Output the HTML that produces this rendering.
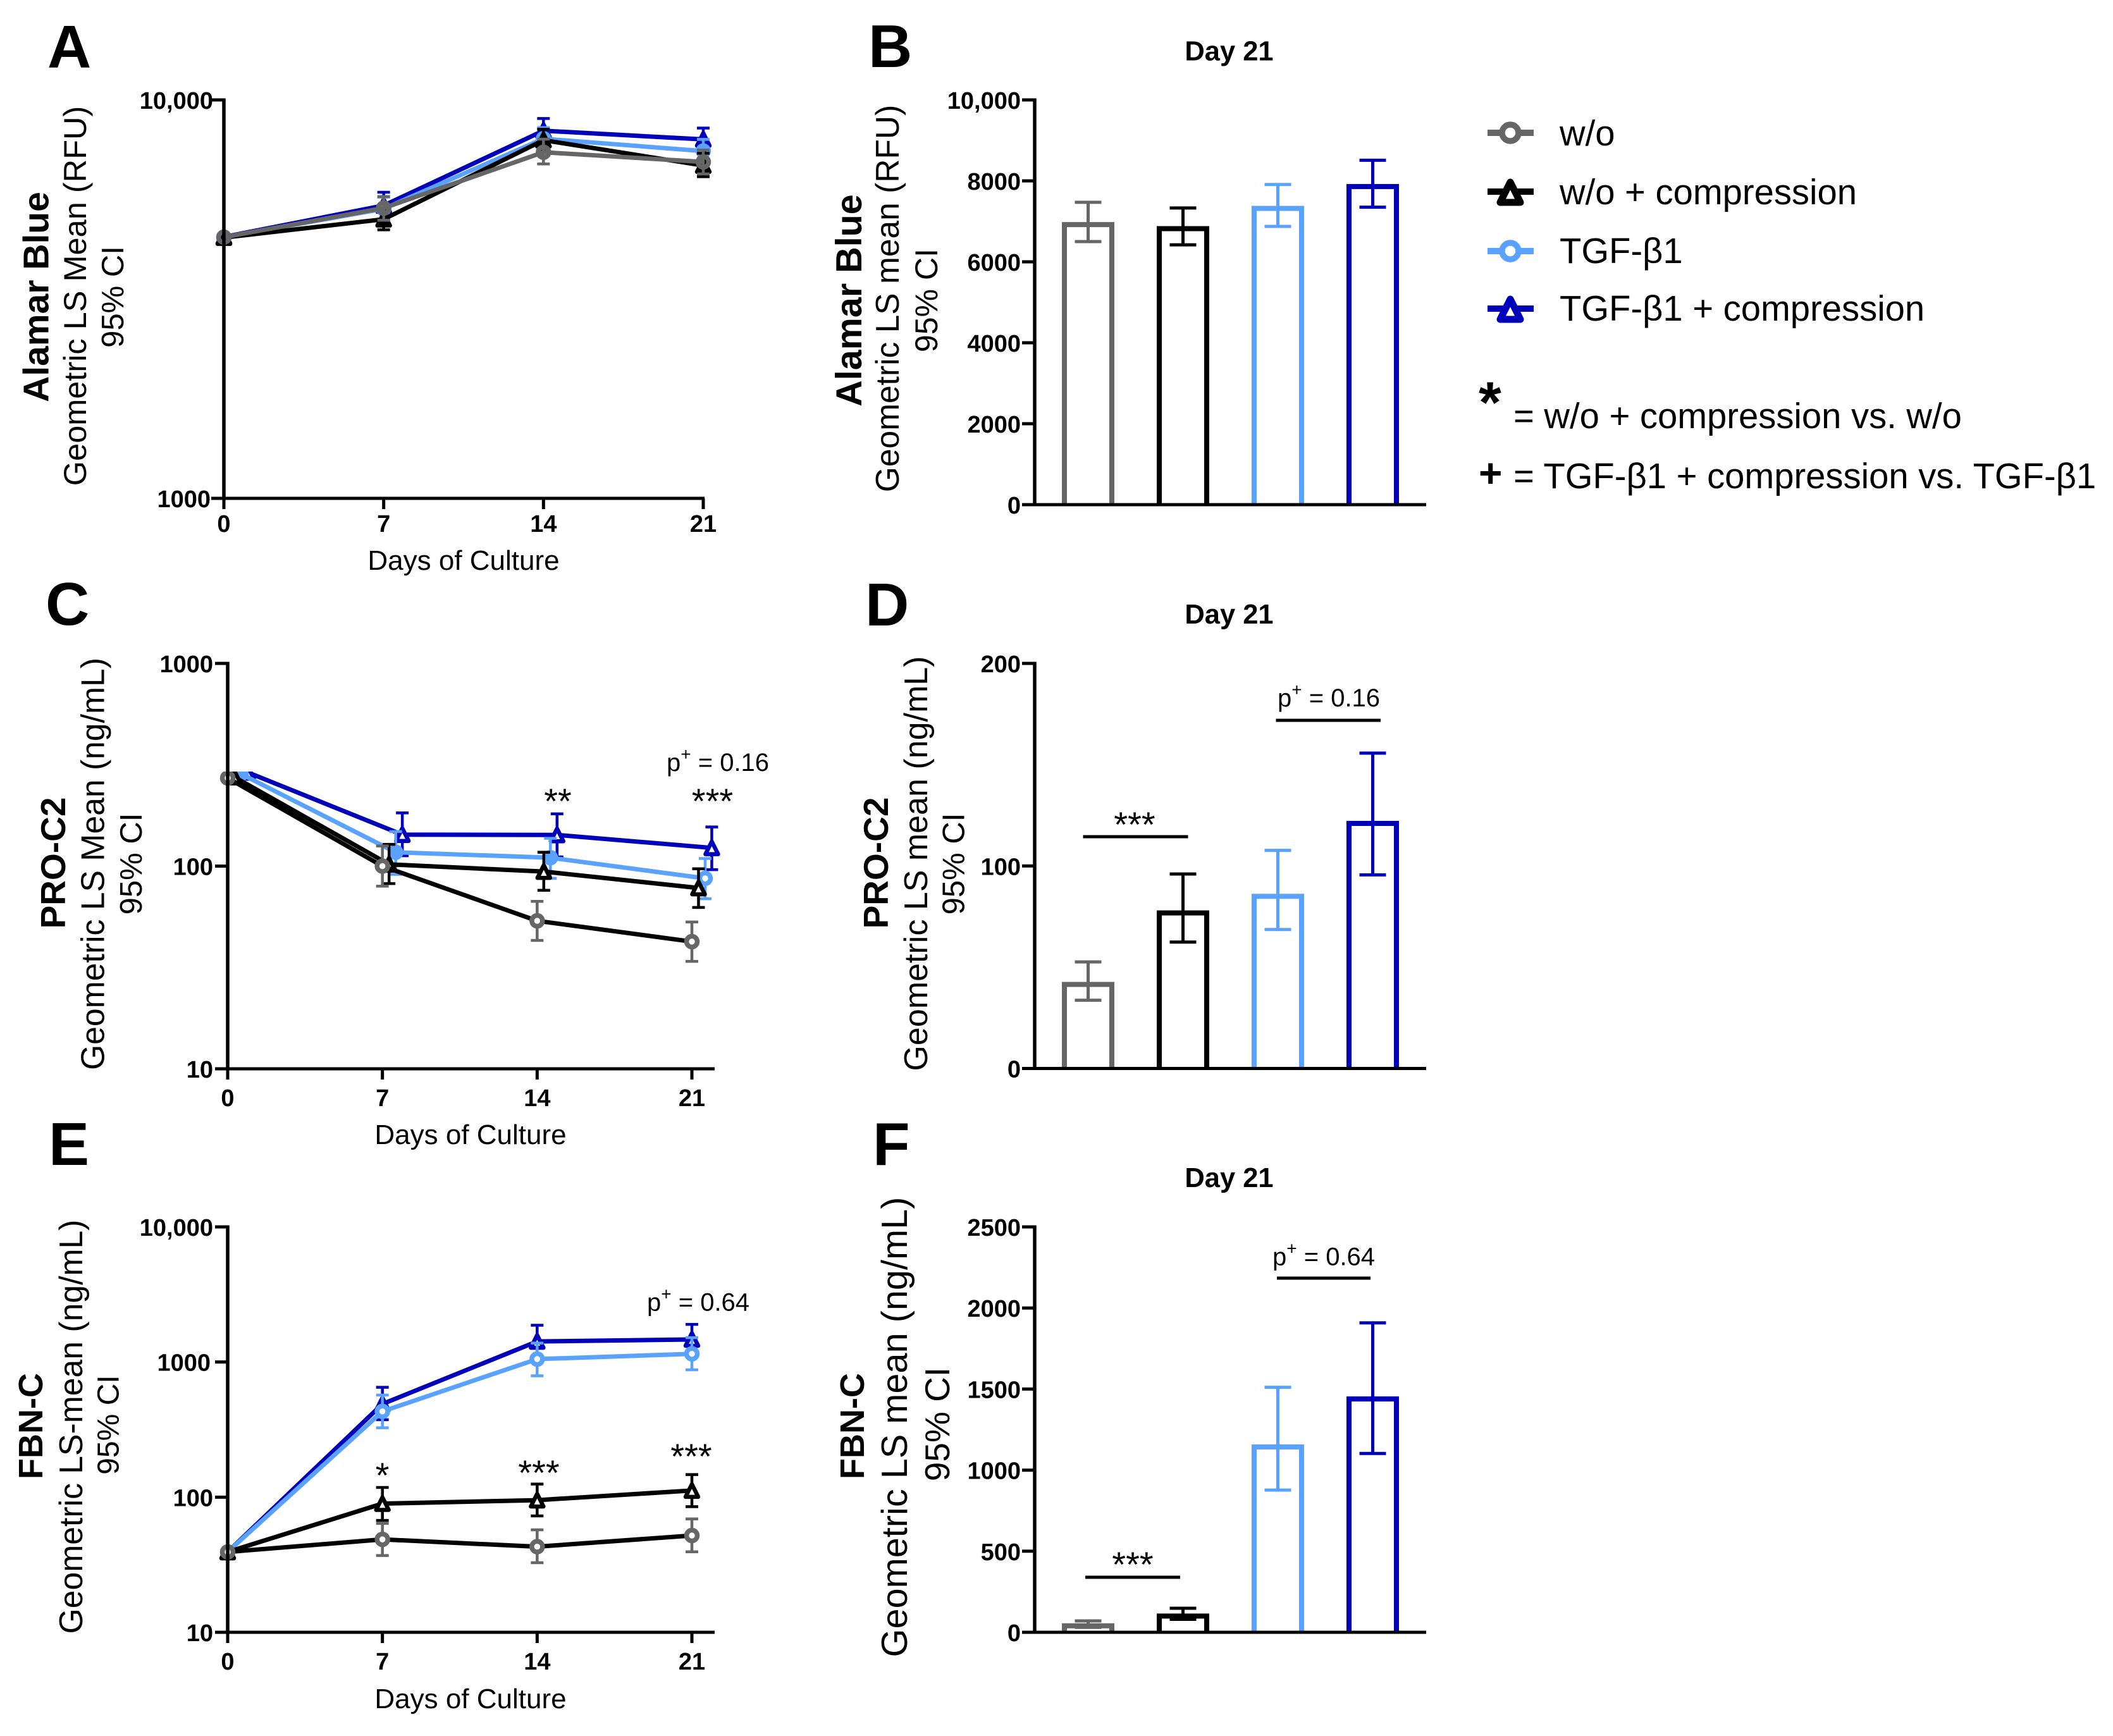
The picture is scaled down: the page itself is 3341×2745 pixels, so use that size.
<!DOCTYPE html>
<html lang="en">
<head>
<meta charset="utf-8">
<title>Alamar Blue, PRO-C2 and FBN-C time course and day 21 charts</title>
<style>
html,body{margin:0;padding:0;background:#fff}
svg{display:block;font-family:"Liberation Sans",Arial,sans-serif;fill:#000}
.pl{font-size:96px;font-weight:700}
.ttl{font-size:43.5px;font-weight:700;text-anchor:middle}
.big{font-weight:700;text-anchor:middle}
.reg{text-anchor:middle}
.days{font-size:44px;text-anchor:middle}
.leg{font-size:56.2px}
.star{font-size:56px;text-anchor:middle}
.pv{font-size:40px}
.sup{font-size:28px}
</style>
</head>
<body>
<svg id="figure" xmlns="http://www.w3.org/2000/svg" width="3341" height="2745" viewBox="0 0 3341 2745">
<rect width="3341" height="2745" fill="#fff"/>
<defs><clipPath id="clip-c"><path d="M300 1220H430V1000H1200V1720H300Z"/></clipPath></defs>

<text class="pl" x="75" y="107">A</text>
<text class="pl" x="1373" y="106">B</text>
<text class="pl" x="72" y="988">C</text>
<text class="pl" x="1368" y="989">D</text>
<text class="pl" x="77" y="1842">E</text>
<text class="pl" x="1380" y="1842">F</text>

<text class="ttl" x="1943.5" y="95.5">Day 21</text>
<text class="ttl" x="1943.5" y="986">Day 21</text>
<text class="ttl" x="1943.5" y="1877">Day 21</text>

<g>
<text class="big" font-size="57" transform="translate(76.5 469.5) rotate(-90)">Alamar Blue</text>
<text class="reg" font-size="50.5" transform="translate(136 468) rotate(-90)">Geometric LS Mean (RFU)</text>
<text class="reg" font-size="49" transform="translate(195 469.5) rotate(-90)">95% CI</text>

<text class="big" font-size="57.5" transform="translate(1362 475) rotate(-90)">Alamar Blue</text>
<text class="reg" font-size="51.5" transform="translate(1421 472) rotate(-90)">Geometric LS mean (RFU)</text>
<text class="reg" font-size="50" transform="translate(1482 475) rotate(-90)">95% CI</text>

<text class="big" font-size="55" transform="translate(103 1364.5) rotate(-90)">PRO-C2</text>
<text class="reg" font-size="51.7" transform="translate(164.5 1366) rotate(-90)">Geometric LS Mean (ng/mL)</text>
<text class="reg" font-size="49" transform="translate(224 1366) rotate(-90)">95% CI</text>

<text class="big" font-size="55" transform="translate(1404 1364.5) rotate(-90)">PRO-C2</text>
<text class="reg" font-size="52" transform="translate(1466 1365.5) rotate(-90)">Geometric LS mean (ng/mL)</text>
<text class="reg" font-size="49" transform="translate(1524.5 1366) rotate(-90)">95% CI</text>

<text class="big" font-size="54" transform="translate(67 2255) rotate(-90)">FBN-C</text>
<text class="reg" font-size="51.7" transform="translate(130 2256) rotate(-90)">Geometric LS-mean (ng/mL)</text>
<text class="reg" font-size="48" transform="translate(187.5 2253) rotate(-90)">95% CI</text>

<text class="big" font-size="54" transform="translate(1366 2255) rotate(-90)">FBN-C</text>
<text class="reg" font-size="57.7" transform="translate(1434 2256.5) rotate(-90)">Geometric LS mean (ng/mL)</text>
<text class="reg" font-size="55" transform="translate(1501 2252) rotate(-90)">95% CI</text>
</g>

<text class="days" x="733" y="901">Days of Culture</text>
<text class="days" x="744" y="1809">Days of Culture</text>
<text class="days" x="744" y="2701">Days of Culture</text>

<g id="plots"></g>

<g>
<text class="pv" x="1054" y="1219">p<tspan class="sup" dy="-17">+</tspan><tspan dy="17"> = 0.16</tspan></text>
<text class="star" x="882" y="1286">**</text>
<text class="star" x="1126.5" y="1286">***</text>
</g>
<g>
<text class="pv" x="2020" y="1117">p<tspan class="sup" dy="-17">+</tspan><tspan dy="17"> = 0.16</tspan></text>
<rect x="2017.5" y="1136.5" width="165.5" height="5"/>
<text class="star" x="1794" y="1323">***</text>
<rect x="1712.5" y="1320.5" width="166" height="5"/>
</g>
<g>
<text class="pv" x="1023" y="2072.5">p<tspan class="sup" dy="-17">+</tspan><tspan dy="17"> = 0.64</tspan></text>
<text class="star" x="604.5" y="2352">*</text>
<text class="star" x="852" y="2348">***</text>
<text class="star" x="1093" y="2322">***</text>
</g>
<g>
<text class="pv" x="2012" y="2000.5">p<tspan class="sup" dy="-17">+</tspan><tspan dy="17"> = 0.64</tspan></text>
<rect x="2019" y="2018.5" width="148" height="5"/>
<text class="star" x="1791" y="2493">***</text>
<rect x="1716" y="2491.5" width="150" height="5"/>
</g>

<g>
<g>
<path d="M2352 210H2425" stroke="#666" stroke-width="10" fill="none"/>
<circle cx="2388" cy="210" r="13" fill="#fff" stroke="#666" stroke-width="9.5"/>
<text class="leg" x="2466" y="230">w/o</text>
</g>
<g>
<path d="M2352 303H2425" stroke="#000" stroke-width="10" fill="none"/>
<path d="M2388 288L2404 320H2372Z" fill="#fff" stroke="#000" stroke-width="11" stroke-linejoin="round"/>
<text class="leg" x="2466" y="323">w/o + compression</text>
</g>
<g>
<path d="M2352 397H2425" stroke="#5aa2ff" stroke-width="10" fill="none"/>
<circle cx="2388" cy="397" r="13" fill="#fff" stroke="#5aa2ff" stroke-width="9.5"/>
<text class="leg" x="2466" y="416">TGF-β1</text>
</g>
<g>
<path d="M2352 488H2425" stroke="#0000bb" stroke-width="10" fill="none"/>
<path d="M2388 473L2404 505H2372Z" fill="#fff" stroke="#0000bb" stroke-width="11" stroke-linejoin="round"/>
<text class="leg" x="2466" y="507">TGF-β1 + compression</text>
</g>
<text font-size="92" font-weight="700" x="2338" y="668">*</text>
<text class="leg" x="2393" y="677">= w/o + compression vs. w/o</text>
<text font-size="64" font-weight="700" x="2338" y="770">+</text>
<text class="leg" x="2393" y="772">= TGF-β1 + compression vs. TGF-β1</text>
</g>
</svg>

<script>
// Shared categories and tick labels
const days = [0, 7, 14, 21];
const dayLabels = ['0', '7', '14', '21'];
const groups = ['w/o', 'w/o + compression', 'TGF-β1', 'TGF-β1 + compression'];
const groupColors = ['#666666', '#000000', '#5aa2ff', '#0000bb'];

// Panel A: Alamar Blue time course
const aTicks = [1000, 10000];
const aTickLabels = ['1000', '10,000'];
const aGray = [4524, 5353, 7391, 6989];
const aGrayHigh = [4524, 5723, 7974, 7484];
const aGrayLow = [4524, 4988, 6906, 6521];
const aBlack = [4513, 5018, 7925, 6845];
const aBlackHigh = [4513, 5330, 8441, 7345];
const aBlackLow = [4513, 4721, 7440, 6418];
const aLight = [4520, 5330, 7992, 7440];
const aLightHigh = [4520, 5700, 8521, 7960];
const aLightLow = [4520, 5000, 7500, 6950];
const aDark = [4530, 5432, 8370, 7960];
const aDarkHigh = [4530, 5866, 8984, 8500];
const aDarkLow = [4530, 5020, 7820, 7420];

// Panel B: Alamar Blue day 21
const bTicks = [0, 2000, 4000, 6000, 8000, 10000];
const bTickLabels = ['0', '2000', '4000', '6000', '8000', '10,000'];
const bMean = [6920, 6820, 7320, 7860];
const bHigh = [7470, 7330, 7910, 8510];
const bLow = [6500, 6420, 6875, 7350];

// Panel C: PRO-C2 time course
const cTicks = [10, 100, 1000];
const cTickLabels = ['10', '100', '1000'];
const cDayNudge = [0, 0.3, 0.6, 0.9];
const cGray = [272, 100, 53.7, 42.4];
const cGrayHigh = [272, 125.7, 67, 53];
const cGrayLow = [272, 79.6, 43, 33.9];
const cBlack = [275, 102, 94, 78];
const cBlackHigh = [275, 128, 117, 97];
const cBlackLow = [275, 82, 76, 62.5];
const cLight = [285, 117, 110, 87];
const cLightHigh = [285, 148, 137, 109];
const cLightLow = [285, 91, 87, 69];
const cDark = [290, 143, 142.5, 123];
const cDarkHigh = [290, 183, 181, 156];
const cDarkLow = [290, 112.5, 111, 96];

// Panel D: PRO-C2 day 21
const dTicks = [0, 100, 200];
const dTickLabels = ['0', '100', '200'];
const dMean = [41.5, 76.8, 85, 121];
const dHigh = [52.6, 96, 107.7, 155.7];
const dLow = [33.7, 62.4, 68.6, 95.6];

// Panel E: FBN-C time course
const eTicks = [10, 100, 1000, 10000];
const eTickLabels = ['10', '100', '1000', '10,000'];
const eGray = [39.3, 48.7, 43, 52];
const eGrayHigh = [39.3, 63.9, 57.3, 69];
const eGrayLow = [39.3, 37, 32.7, 39.4];
const eBlack = [39.3, 89.6, 95, 112];
const eBlackHigh = [39.3, 118, 125, 147];
const eBlackLow = [39.3, 67.3, 72.6, 85];
const eLight = [39.3, 431, 1051, 1150];
const eLightHigh = [39.3, 570, 1381, 1514];
const eLightLow = [39.3, 326, 790, 875];
const eDark = [39.3, 489, 1420, 1469];
const eDarkHigh = [39.3, 650, 1871, 1900];
const eDarkLow = [39.3, 374, 1100, 1110];

// Panel F: FBN-C day 21
const fTicks = [0, 500, 1000, 1500, 2000, 2500];
const fTickLabels = ['0', '500', '1000', '1500', '2000', '2500'];
const fMean = [40, 100, 1143, 1439];
const fHigh = [70, 148, 1511, 1908];
const fLow = [30, 80, 877, 1103];

const NS = 'http://www.w3.org/2000/svg';
const plots = document.getElementById('plots');

function mk(parent, tag, attrs, name) {
  const el = document.createElementNS(NS, tag);
  for (const k in attrs) el.setAttribute(k, attrs[k]);
  
  
  parent.appendChild(el);
  return el;
}
function line(parent, x1, y1, x2, y2, color, width, name) {
  return mk(parent, 'line', {x1: x1, y1: y1, x2: x2, y2: y2, stroke: color, 'stroke-width': width}, name);
}
function logScale(lo, hi, yLo, yHi) {
  return v => yLo + (Math.log10(v) - Math.log10(lo)) / (Math.log10(hi) - Math.log10(lo)) * (yHi - yLo);
}
function linScale(lo, hi, yLo, yHi) {
  return v => yLo + (v - lo) / (hi - lo) * (yHi - yLo);
}
function yAxis(g, prefix, axisX, y, ticks, labels, labelRight) {
  const ys = ticks.map(y);
  line(g, axisX, Math.min.apply(null, ys) - 2.5, axisX, Math.max.apply(null, ys) + 2.5, '#000', 5.5, prefix + '-y-axis');
  ticks.forEach((t, i) => {
    line(g, axisX - 20, y(t), axisX, y(t), '#000', 5, prefix + '-y-tick');
    const shift = labels[i] === '1000' && labels.indexOf('10,000') >= 0 ? -4 : 0;
    const tx = mk(g, 'text', {x: labelRight + shift, y: y(t) + 14, 'font-size': 38, 'font-weight': 700, 'text-anchor': 'end'}, prefix + '-y-tick-label');
    tx.textContent = labels[i];
  });
}
function marker(g, shape, x, y, color, fill, name) {
  if (shape === 'circle') {
    mk(g, 'circle', {cx: x, cy: y, r: 8.5, fill: fill, stroke: color, 'stroke-width': 7.5}, name);
  } else {
    mk(g, 'path', {d: 'M' + x + ' ' + (y - 10) + 'L' + (x + 10) + ' ' + (y + 10) + 'H' + (x - 10) + 'Z', fill: fill, stroke: color, 'stroke-width': 6.5, 'stroke-linejoin': 'round'}, name);
  }
}

function linePanel(opt) {
  const g = mk(plots, 'g', {}, opt.id);
  const xPx = d => opt.x0 + d / 21 * (opt.x21 - opt.x0);
  const order = [3, 2, 1, 0];
  const marks = mk(g, 'g', opt.clip ? {'clip-path': opt.clip} : {}, opt.id + '-series');
  order.forEach(s => {
    const sg = mk(marks, 'g', {}, opt.id + '-series-' + s);
    const color = groupColors[s];
    const lineColor = opt.grayLineColor && s === 0 ? opt.grayLineColor : color;
    const nudge = opt.nudge ? opt.nudge[s] : 0;
    const pts = days.map((d, i) => (xPx(d + nudge)) + ',' + opt.y(opt.mean[s][i]));
    mk(sg, 'polyline', {points: pts.join(' '), fill: 'none', stroke: lineColor, 'stroke-width': 7, 'stroke-linejoin': 'round'}, opt.id + '-line-' + s);
    days.forEach((d, i) => {
      const x = xPx(d + nudge), hi = opt.high[s][i], lo = opt.low[s][i];
      if (hi !== lo) {
        line(sg, x, opt.y(hi), x, opt.y(lo), color, 4.5, opt.id + '-error-bar');
        line(sg, x - 10, opt.y(hi), x + 10, opt.y(hi), color, 4.5, opt.id + '-error-cap-high');
        line(sg, x - 10, opt.y(lo), x + 10, opt.y(lo), color, 4.5, opt.id + '-error-cap-low');
      }
      const tri = s % 2 === 1;
      let fill = opt.solid ? (tri ? color : 'none') : '#fff';
      if (opt.lightSolid && s === 2 && i < 3) fill = color;
      marker(sg, tri ? 'triangle' : 'circle', x, opt.y(opt.mean[s][i]), color, fill, opt.id + '-point');
    });
  });
  yAxis(g, opt.id, opt.x0, opt.y, opt.ticks, opt.labels, opt.labelRight);
  line(g, opt.x0 - 2.5, opt.yBottom, opt.xEnd, opt.yBottom, '#000', 5, opt.id + '-x-axis');
  days.forEach((d, i) => {
    line(g, xPx(d), opt.yBottom, xPx(d), opt.yBottom + 17, '#000', 5, opt.id + '-x-tick');
    const tx = mk(g, 'text', {x: xPx(d), y: opt.labelY, 'font-size': 38, 'font-weight': 700, 'text-anchor': 'middle'}, opt.id + '-x-tick-label');
    tx.textContent = dayLabels[i];
  });
}

function barPanel(opt) {
  const g = mk(plots, 'g', {}, opt.id);
  const cx = i => 1720.5 + 150 * i;
  const halfW = 37.5;
  groups.forEach((name, i) => {
    const top = opt.y(opt.mean[i]);
    mk(g, 'rect', {x: cx(i) - halfW, y: top, width: halfW * 2, height: opt.yBottom - top + 4, fill: '#fff', stroke: groupColors[i], 'stroke-width': 8}, opt.id + '-bar-' + i);
    line(g, cx(i), opt.y(opt.high[i]), cx(i), opt.y(opt.low[i]), groupColors[i], 5, opt.id + '-error-bar-' + i);
    line(g, cx(i) - 21, opt.y(opt.high[i]), cx(i) + 21, opt.y(opt.high[i]), groupColors[i], 5, opt.id + '-error-cap-high-' + i);
    line(g, cx(i) - 21, opt.y(opt.low[i]), cx(i) + 21, opt.y(opt.low[i]), groupColors[i], 5, opt.id + '-error-cap-low-' + i);
  });
  mk(g, 'rect', {x: 1600, y: opt.yBottom + 2.5, width: 680, height: 10, fill: '#fff'}, opt.id + '-bar-base-mask');
  yAxis(g, opt.id, 1636, opt.y, opt.ticks, opt.labels, 1614);
  line(g, 1616, opt.yBottom, 2255, opt.yBottom, '#000', 5, opt.id + '-x-axis');
}

linePanel({
  id: 'panel-a', x0: 354, x21: 1112, xEnd: 1114, yBottom: 788, labelY: 841, labelRight: 337,
  y: logScale(1000, 10000, 788, 158), ticks: aTicks, labels: aTickLabels, solid: true,
  mean: [aGray, aBlack, aLight, aDark], high: [aGrayHigh, aBlackHigh, aLightHigh, aDarkHigh], low: [aGrayLow, aBlackLow, aLightLow, aDarkLow]
});
barPanel({id: 'panel-b', y: linScale(0, 10000, 798, 158), yBottom: 798, ticks: bTicks, labels: bTickLabels, mean: bMean, high: bHigh, low: bLow});
linePanel({
  id: 'panel-c', x0: 360, x21: 1094, xEnd: 1130, yBottom: 1690, labelY: 1749, labelRight: 337,
  y: logScale(10, 1000, 1690, 1049), ticks: cTicks, labels: cTickLabels, nudge: cDayNudge, grayLineColor: '#000', clip: 'url(#clip-c)', lightSolid: true,
  mean: [cGray, cBlack, cLight, cDark], high: [cGrayHigh, cBlackHigh, cLightHigh, cDarkHigh], low: [cGrayLow, cBlackLow, cLightLow, cDarkLow]
});
barPanel({id: 'panel-d', y: linScale(0, 200, 1689.5, 1049), yBottom: 1689.5, ticks: dTicks, labels: dTickLabels, mean: dMean, high: dHigh, low: dLow});
linePanel({
  id: 'panel-e', x0: 360, x21: 1094, xEnd: 1130, yBottom: 2581, labelY: 2640, labelRight: 337,
  y: logScale(10, 10000, 2581, 1940), ticks: eTicks, labels: eTickLabels, grayLineColor: '#000',
  mean: [eGray, eBlack, eLight, eDark], high: [eGrayHigh, eBlackHigh, eLightHigh, eDarkHigh], low: [eGrayLow, eBlackLow, eLightLow, eDarkLow]
});
barPanel({id: 'panel-f', y: linScale(0, 2500, 2581, 1940), yBottom: 2581, ticks: fTicks, labels: fTickLabels, mean: fMean, high: fHigh, low: fLow});
</script>
</body>
</html>
